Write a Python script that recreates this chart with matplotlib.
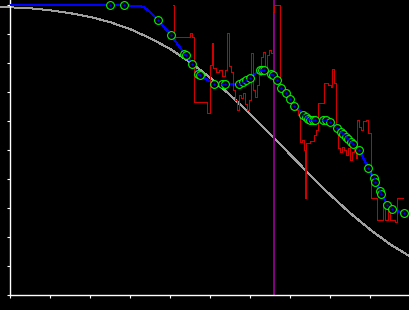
import matplotlib
matplotlib.use("Agg")
import matplotlib.pyplot as plt

plt.rcParams['lines.antialiased'] = False

# smooth gray reference curve
gray_x = [-0.25, 0, 0.5, 1, 1.5, 2, 2.5, 3, 3.5, 4, 4.5, 5, 5.5, 6, 6.5, 7, 7.5, 8, 8.5, 9, 9.5, 10]
gray_y = [0.995, 0.993, 0.990, 0.983, 0.973, 0.960, 0.942, 0.918, 0.887, 0.850, 0.804, 0.751,
          0.691, 0.626, 0.557, 0.486, 0.415, 0.347, 0.284, 0.227, 0.176, 0.134]

# green sample points
pts_x = [2.51, 2.85, 3.70, 4.03, 4.36, 4.40, 4.56, 4.71, 4.74, 5.11, 5.29, 5.38, 5.73, 5.82,
         5.90, 6.00, 6.26, 6.31, 6.35, 6.53, 6.58, 6.68, 6.78, 6.90, 6.99, 7.11, 7.33, 7.39,
         7.44, 7.50, 7.57, 7.63, 7.83, 7.89, 8.00, 8.18, 8.28, 8.33, 8.39, 8.46, 8.53, 8.58,
         8.73, 8.96, 9.09, 9.13, 9.24, 9.28, 9.43, 9.56, 9.85]
pts_y = [1.0, 1.0, 0.949, 0.896, 0.833, 0.829, 0.796, 0.764, 0.758, 0.730, 0.730, 0.728, 0.727,
         0.737, 0.744, 0.751, 0.776, 0.776, 0.776, 0.764, 0.758, 0.741, 0.716, 0.696, 0.677,
         0.654, 0.621, 0.615, 0.609, 0.606, 0.603, 0.603, 0.606, 0.603, 0.596, 0.577, 0.563,
         0.555, 0.546, 0.538, 0.529, 0.522, 0.500, 0.440, 0.403, 0.389, 0.360, 0.351, 0.313,
         0.296, 0.283]

# blue fitted line: extra knots where it leaves the top and bends down
knot_x = [0, 3.25, 3.35, 3.45, 3.55]
knot_y = [1.0, 0.998, 0.993, 0.983, 0.970]

# red noisy measurement (step)
red_x = [4.075, 4.1, 4.5, 4.55, 4.6, 4.925, 5.0, 5.05, 5.075, 5.15, 5.225, 5.3, 5.375, 5.425,
         5.475, 5.525, 5.575, 5.625, 5.675, 5.725, 5.775, 5.825, 5.875, 5.925, 5.975, 6.025,
         6.075, 6.125, 6.175, 6.225, 6.275, 6.325, 6.375, 6.425, 6.475, 6.525, 6.575, 6.6,
         6.75, 6.8, 6.85, 6.9, 6.95, 7.0, 7.05, 7.1, 7.15, 7.2, 7.25, 7.3, 7.35, 7.375, 7.4,
         7.5, 7.6, 7.65, 7.7, 7.85, 7.95, 8.025, 8.05, 8.1, 8.15, 8.2, 8.25, 8.3, 8.35, 8.4,
         8.45, 8.5, 8.55, 8.6, 8.65, 8.675, 8.725, 8.775, 8.825, 8.9, 8.95, 9.025, 9.175,
         9.325, 9.375, 9.45, 9.5, 9.625, 9.675, 9.825]
red_y = [1.0, 0.890, 0.903, 0.890, 0.666, 0.628, 0.793, 0.869, 0.783, 0.769, 0.776, 0.755,
         0.776, 0.903, 0.790, 0.769, 0.707, 0.672, 0.638, 0.690, 0.679, 0.697, 0.659, 0.638,
         0.672, 0.834, 0.707, 0.683, 0.724, 0.759, 0.821, 0.838, 0.776, 0.828, 0.845, 0.834,
         0.976, 1.0, 0.707, 0.714, 0.686, 0.697, 0.672, 0.683, 0.659, 0.648, 0.638, 0.621,
         0.528, 0.534, 0.5, 0.334, 0.524, 0.531, 0.552, 0.569, 0.662, 0.731, 0.724, 0.717,
         0.779, 0.731, 0.576, 0.507, 0.493, 0.510, 0.5, 0.483, 0.507, 0.466, 0.493, 0.517,
         0.472, 0.603, 0.579, 0.569, 0.6, 0.603, 0.559, 0.334, 0.259, 0.317, 0.259, 0.303,
         0.259, 0.252, 0.334, 0.334]

marker_x = 6.61

# merge knots and points in x order for the blue line
blue = sorted(zip(knot_x + pts_x, knot_y + pts_y))
blue_x = [p[0] for p in blue]
blue_y = [p[1] for p in blue]

fig = plt.figure(figsize=(4.1, 3.1), dpi=100, facecolor='black')
ax = fig.add_axes([10/410, 14.7/310, 400/410, 295.3/310])
ax.set_facecolor('black')

ax.plot(gray_x, gray_y, color='#a0a0a0', lw=0.72, clip_on=False, zorder=1)
ax.axvline(marker_x, color='#800080', lw=1.4, zorder=2)
ax.plot(blue_x, blue_y, color='#0000ff', lw=0.72, zorder=3)
ax.plot(red_x, red_y, color='#d00000', lw=0.72, drawstyle='steps-post', zorder=4)
ax.plot(pts_x, pts_y, 'o', ms=5.6, mfc='black', mec='#00ff00', mew=0.75, zorder=5)
ax.plot(pts_x, pts_y, '.', ms=1.5, color='#0000ff', zorder=6)

ax.set_xlim(0, 10)
ax.set_ylim(0, 295.3/290)
ax.set_xticks(range(0, 11))
ax.set_yticks([i / 10 for i in range(11)])
ax.set_xticklabels([])
ax.set_yticklabels([])
ax.tick_params(colors='white', length=2.5, width=0.8, direction='out')
for s in ['top', 'right']:
    ax.spines[s].set_visible(False)
for s in ['left', 'bottom']:
    ax.spines[s].set_color('white')
    ax.spines[s].set_linewidth(1.0)

fig.savefig('out.png', dpi=100, facecolor='black')
